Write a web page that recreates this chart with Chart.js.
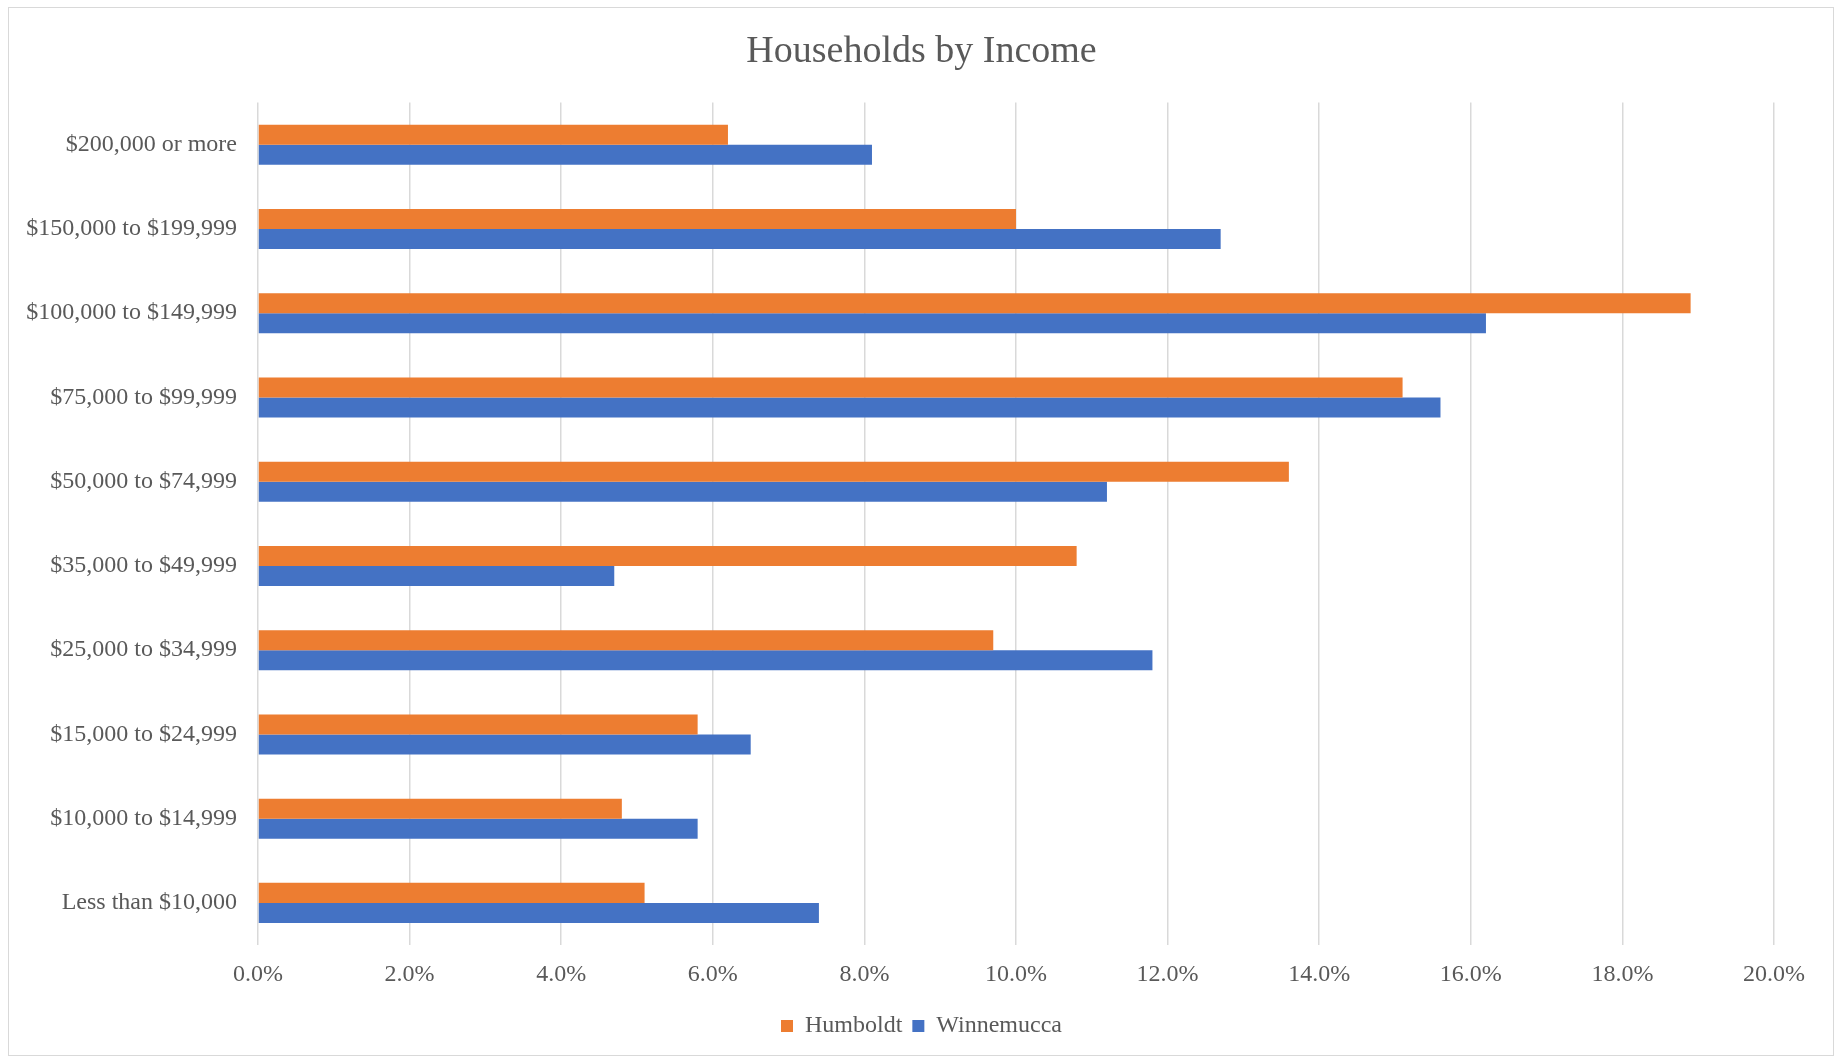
<!DOCTYPE html>
<html>
<head>
<meta charset="utf-8">
<script src="https://cdn.jsdelivr.net/npm/chart.js@4/dist/chart.umd.min.js"></script>
<style>
  body { margin: 0; background: #fff; }
  #wrap { position: relative; width: 1843px; height: 1060px; }
  #frame { position: absolute; left: 8px; top: 7px; width: 1826px; height: 1049px; border: 1.5px solid #d9d9d9; box-sizing: border-box; }
  canvas { position: absolute; left: 0; top: 0; }
</style>
</head>
<body>
<div id="wrap">
  <div id="frame"></div>
  <canvas id="myChart" width="1843" height="1060"></canvas>
</div>
<script>
// income brackets, top to bottom as in the picture
var categories = [
    '$200,000 or more',
    '$150,000 to $199,999',
    '$100,000 to $149,999',
    '$75,000 to $99,999',
    '$50,000 to $74,999',
    '$35,000 to $49,999',
    '$25,000 to $34,999',
    '$15,000 to $24,999',
    '$10,000 to $14,999',
    'Less than $10,000'
];
var humboldt   = [6.2, 10.0, 18.9, 15.1, 13.6, 10.8, 9.7, 5.8, 4.8, 5.1];
var winnemucca = [8.1, 12.7, 16.2, 15.6, 11.2, 4.7, 11.8, 6.5, 5.8, 7.4];
var xTicks = [0, 2, 4, 6, 8, 10, 12, 14, 16, 18, 20];

var textColor = '#595959';
var serif = "'Liberation Serif', 'Times New Roman', serif";

// y labels are wider than the y scale box, widen the label clip area after layout
var unclipY = {
    id: 'unclipY',
    afterLayout: function(chart) {
        chart.scales.y.left = 0;
    }
};

var ctx = document.getElementById('myChart').getContext('2d');
var chart = new Chart(ctx, {
    type: 'bar',
    data: {
        labels: categories,
        datasets: [{
            label: 'Humboldt',
            backgroundColor: '#ED7D31',
            data: humboldt,
            categoryPercentage: 0.475,
            barPercentage: 1.0
        }, {
            label: 'Winnemucca',
            backgroundColor: '#4472C4',
            data: winnemucca,
            categoryPercentage: 0.475,
            barPercentage: 1.0
        }]
    },
    plugins: [unclipY],
    options: {
        indexAxis: 'y',
        responsive: false,
        animation: false,
        layout: { padding: { top: 0, left: 69, right: 69, bottom: 12 } },
        scales: {
            x: {
                position: 'bottom',
                min: xTicks[0],
                max: xTicks[xTicks.length - 1],
                afterBuildTicks: function(scale) {
                    scale.ticks = xTicks.map(function(v) { return { value: v }; });
                },
                afterFit: function(scale) { scale.height = 59; },
                grid: { color: '#d9d9d9', lineWidth: 1.5, drawTicks: false },
                border: { display: false },
                ticks: {
                    padding: 15,
                    color: textColor,
                    font: { family: serif, size: 24 },
                    callback: function(v) { return v.toFixed(1) + '%'; }
                }
            },
            y: {
                afterFit: function(scale) { scale.width = 189; },
                grid: { display: false, drawTicks: false },
                border: { display: false },
                ticks: {
                    padding: 21,
                    color: textColor,
                    font: { family: serif, size: 24 }
                }
            }
        },
        plugins: {
            title: {
                display: true,
                text: 'Households by Income',
                color: textColor,
                font: { family: serif, size: 38, weight: 'normal' },
                padding: { top: 29, bottom: 28 }
            },
            legend: {
                position: 'bottom',
                labels: {
                    boxWidth: 12,
                    boxHeight: 12,
                    padding: 10,
                    color: textColor,
                    font: { family: serif, size: 24 }
                }
            },
            tooltip: { enabled: false }
        }
    }
});
</script>
</body>
</html>
